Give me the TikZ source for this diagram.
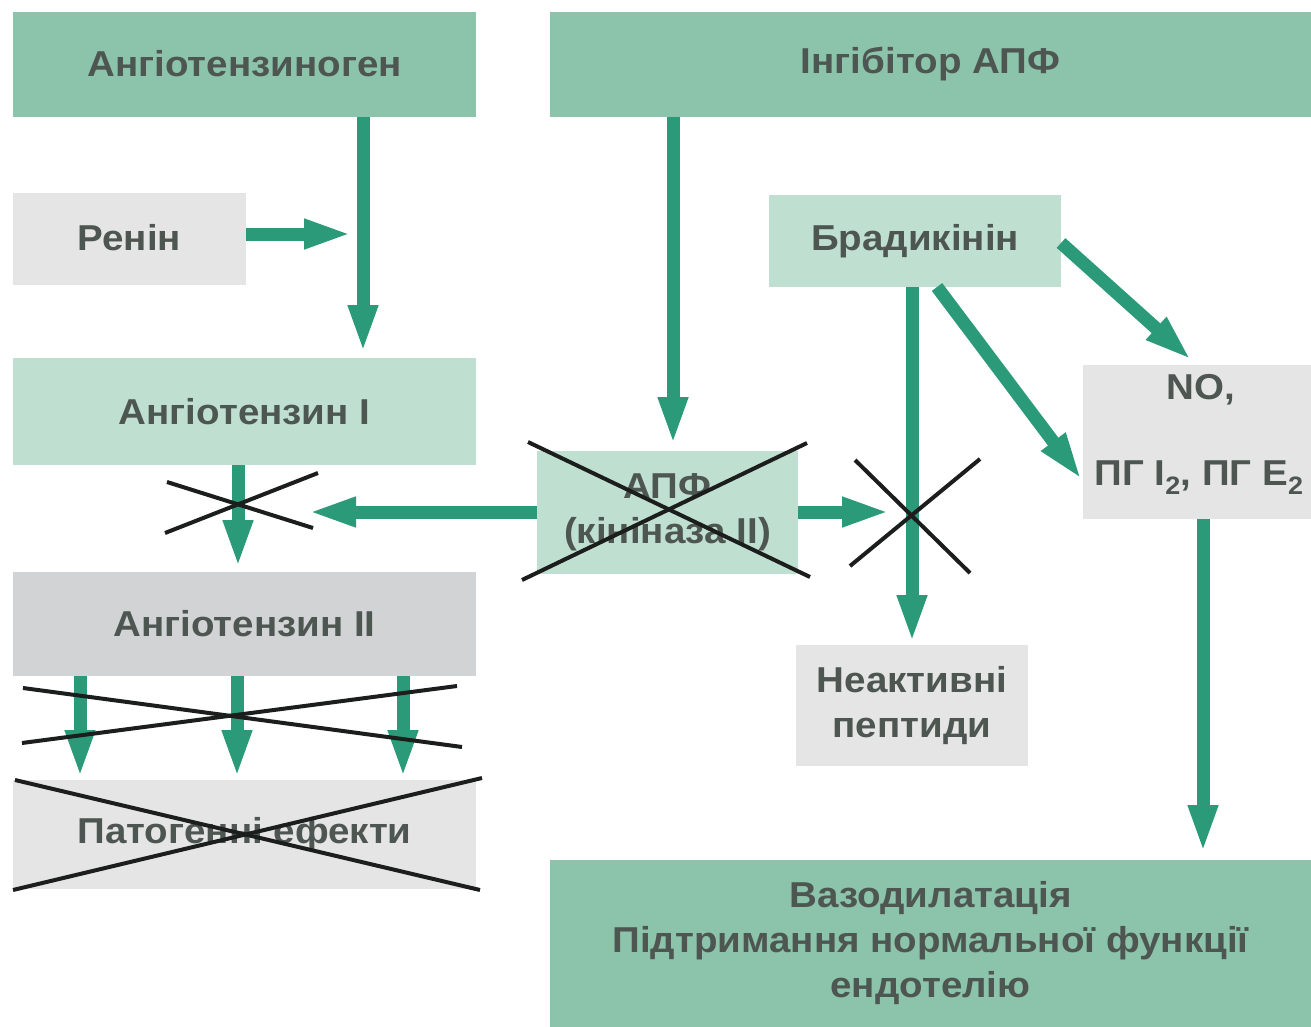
\documentclass[tikz,border=0pt]{standalone}
\usepackage{fontspec}
\setmainfont{Liberation Sans}[FakeStretch=1.07]
\usetikzlibrary{arrows.meta,calc}
\definecolor{dkgreen}{RGB}{140,195,171}
\definecolor{ltgreen}{RGB}{191,224,209}
\definecolor{ltgray}{RGB}{229,229,229}
\definecolor{midgray}{RGB}{210,211,213}
\definecolor{arrgreen}{RGB}{42,154,120}
\definecolor{txtc}{RGB}{78,86,82}
\definecolor{crossc}{RGB}{28,30,29}
\begin{document}
\begin{tikzpicture}[x=1pt,y=-1pt,
  box/.style={inner sep=0pt, outer sep=0pt, align=center, text=txtc,
    font=\fontsize{36}{45}\selectfont\bfseries},
  lbl/.style={inner sep=0pt, text=txtc, font=\fontsize{36}{45}\selectfont\bfseries},
  arr/.style={draw=arrgreen, line width=13pt, -{Triangle[length=48pt,width=27pt]}},
  xline/.style={draw=crossc, line width=4pt}]
\useasboundingbox[fill=white] (0,0) rectangle (1311,1027);

% boxes
\node[box, fill=dkgreen, minimum width=463pt, minimum height=105pt] (angen) at (244.5,64.5) {\raisebox{2pt}{Ангіотензиноген}};
\node[box, fill=dkgreen, minimum width=761pt, minimum height=105pt] (inhib) at (930.5,64.5) {Інгібітор АПФ};
\node[box, fill=ltgray, minimum width=233pt, minimum height=92pt] (renin) at (129.5,239) {\raisebox{3pt}{Ренін}};
\node[box, fill=ltgreen, minimum width=463pt, minimum height=107pt] (ang1) at (244.5,411.5) {Ангіотензин I};
\node[box, fill=midgray, minimum width=463pt, minimum height=104pt] (ang2) at (244.5,624) {Ангіотензин II};
\node[box, fill=ltgray, minimum width=463pt, minimum height=109pt] (patho) at (244.5,834.5) {Патогенні ефекти};
\node[box, fill=ltgreen, minimum width=261pt, minimum height=123pt] (apf) at (667.5,512.5) {АПФ\\(кініназа II)};
\node[box, fill=ltgreen, minimum width=292pt, minimum height=92pt] (brad) at (915,241) {Брадикінін};
\node[box, fill=ltgray, minimum width=228pt, minimum height=154pt] (no) at (1197,442) {};
\node[lbl] (noA) at (1201,390) {NO,};
\node[lbl] (noB) at (1199,478) {ПГ I\textsubscript{2}, ПГ E\textsubscript{2}};
\node[box, fill=ltgray, minimum width=232pt, minimum height=121pt] (inact) at (912,705.5) {Неактивні\\пептиди};
\node[box, fill=dkgreen, minimum width=761pt, minimum height=167pt] (vaso) at (930.5,943.5) {Вазодилатація\\Підтримання нормальної функції\\ендотелію};

% helper coordinates
\coordinate (x363) at (363,0);
\coordinate (x238) at (238,0);
\coordinate (x673) at (673,0);
\coordinate (x912) at (912,0);
\coordinate (x1203) at (1203,0);
\coordinate (x80) at (80,0);
\coordinate (x237) at (237,0);
\coordinate (x403) at (403,0);
\coordinate (x937) at (937,0);
\coordinate (rtip) at (352,234);
\coordinate (ltip) at (308,512);
\coordinate (rtip2) at (890,512);
\coordinate (dtip) at (1082,480);

% arrows
\draw[arr, shorten >=5pt] (angen.south -| x363) -- (ang1.north -| x363);
\draw[arr] (renin.east |- rtip) -- (rtip);
\draw[arr, shorten >=4pt] (ang1.south -| x238) -- (ang2.north -| x238);
\draw[arr] (apf.west |- ltip) -- (ltip);
\draw[arr] (apf.east |- rtip2) -- (rtip2);
\draw[arr, shorten >=6pt] (inhib.south -| x673) -- (apf.north -| x673);
\draw[arr, shorten >=2pt] (brad.south -| x912) -- (inact.north -| x912);
\draw[arr] (brad.south -| x937) -- (dtip);
\draw[arr, shorten >=7pt] ($(brad.east)+(0,2)$) -- (no.north);
\draw[arr, shorten >=7pt] (no.south -| x1203) -- (vaso.north -| x1203);
\draw[arr, shorten >=2pt] (ang2.south -| x80) -- (patho.north -| x80);
\draw[arr, shorten >=2pt] (ang2.south -| x237) -- (patho.north -| x237);
\draw[arr, shorten >=2pt] (ang2.south -| x403) -- (patho.north -| x403);

% crosses
\draw[xline] (167,482) -- (313,528);
\draw[xline] (165,533) -- (318,473);
\draw[xline] (528,442) -- (810,577);
\draw[xline] (522,580) -- (807,443);
\draw[xline] (855,460) -- (970,573);
\draw[xline] (850,566) -- (980,459);
\draw[xline] (23,688) -- (462,747);
\draw[xline] (22,743) -- (457,686);
\draw[xline] (15,780) -- (480,890);
\draw[xline] (13,890) -- (482,778);
\end{tikzpicture}
\end{document}
